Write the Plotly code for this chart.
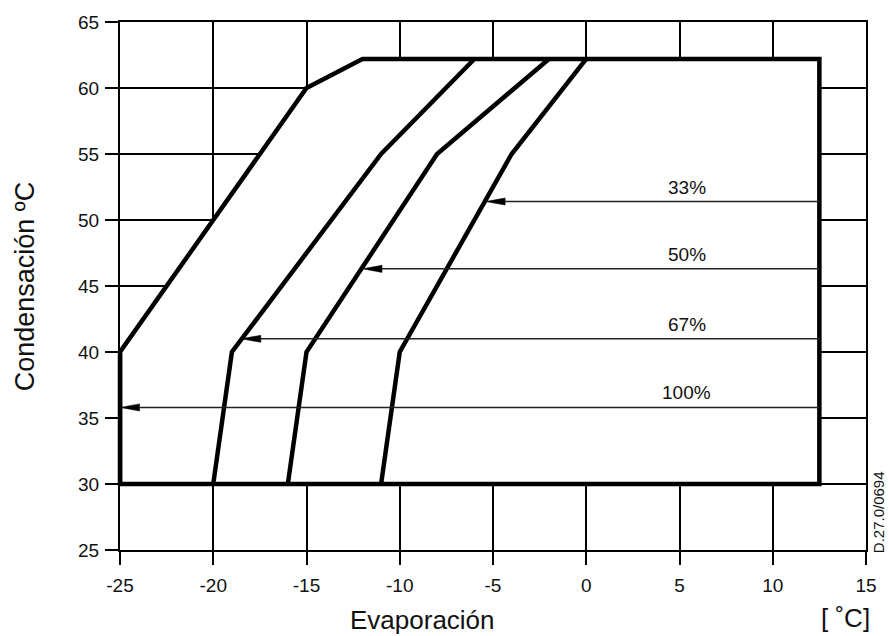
import plotly.graph_objects as go

# ---- data ----
X_TICKS = [-25, -20, -15, -10, -5, 0, 5, 10, 15]
Y_TICKS = [25, 30, 35, 40, 45, 50, 55, 60, 65]

ENV_X = [-25, -25, -15, -12, 12.5, 12.5, -25]
ENV_Y = [30, 40, 60, 62.2, 62.2, 30, 30]

CURVE_Y = [30, 40, 55, 62.2]
CURVE_67_X = [-20, -19, -11, -6]
CURVE_50_X = [-16, -15, -8, -2]
CURVE_33_X = [-11, -10, -4, 0]

ARROW_LABELS = ["33%", "50%", "67%", "100%"]
ARROW_Y = [51.4, 46.3, 41.0, 35.8]
ARROW_HEAD_X = [-5.4, -12.0, -18.5, -25.0]
ARROW_TAIL_X = 12.5
LABEL_X = 5.4

# ---- style ----
FONT = "Liberation Sans, Arial, sans-serif"
HEAD_LEN = 1.05   # x units
HEAD_HALF = 0.27  # y units
THICK = 4.5

fig = go.Figure()

# envelope (white fill hides the grid inside)
fig.add_trace(go.Scatter(x=ENV_X, y=ENV_Y, mode="lines", fill="toself",
                         fillcolor="white", line=dict(color="black", width=THICK),
                         hoverinfo="skip", showlegend=False))

for cx in (CURVE_67_X, CURVE_50_X, CURVE_33_X):
    fig.add_trace(go.Scatter(x=cx, y=CURVE_Y, mode="lines",
                             line=dict(color="black", width=THICK),
                             hoverinfo="skip", showlegend=False))

# arrows
for lab, ay, hx in zip(ARROW_LABELS, ARROW_Y, ARROW_HEAD_X):
    fig.add_trace(go.Scatter(x=[ARROW_TAIL_X, hx + HEAD_LEN], y=[ay, ay], mode="lines",
                             line=dict(color="#222", width=1.5),
                             hoverinfo="skip", showlegend=False))
    fig.add_trace(go.Scatter(x=[hx, hx + HEAD_LEN, hx + HEAD_LEN, hx],
                             y=[ay, ay + HEAD_HALF, ay - HEAD_HALF, ay],
                             mode="lines", fill="toself", fillcolor="black",
                             line=dict(color="black", width=0.5),
                             hoverinfo="skip", showlegend=False))
    fig.add_annotation(x=LABEL_X, y=ay, text=lab, showarrow=False,
                       xanchor="center", yanchor="bottom", yshift=2,
                       font=dict(family=FONT, size=19, color="#111"))

# thick left envelope edge, drawn unclipped
fig.add_annotation(x=ENV_X[0], y=ENV_Y[0], ax=ENV_X[1], ay=ENV_Y[1],
                   axref="x", ayref="y", xref="x", yref="y", text="",
                   showarrow=True, arrowhead=0, arrowwidth=THICK, arrowcolor="black")

# axis titles / extra texts
fig.add_annotation(x=-0.127, y=0.5, xref="paper", yref="paper", text="Condensación ºC",
                   textangle=-90, showarrow=False, xanchor="center", yanchor="middle",
                   font=dict(family=FONT, size=27, color="#111"))
fig.add_annotation(x=0.406, y=-0.133, xref="paper", yref="paper", text="Evaporación",
                   showarrow=False, xanchor="center", yanchor="middle",
                   font=dict(family=FONT, size=26, color="#111"))
fig.add_annotation(x=0.972, y=-0.129, xref="paper", yref="paper", text="[ ˚C]",
                   showarrow=False, xanchor="center", yanchor="middle",
                   font=dict(family=FONT, size=26, color="#111"))
fig.add_annotation(x=1.017, y=0.071, xref="paper", yref="paper", text="D.27.0/0694",
                   textangle=-90, showarrow=False, xanchor="center", yanchor="middle",
                   font=dict(family=FONT, size=15, color="#111"))

axis_common = dict(showgrid=True, gridcolor="black", gridwidth=1.8,
                   showline=True, linecolor="black", linewidth=2, mirror=True,
                   ticks="outside", ticklen=13, tickwidth=2, tickcolor="black",
                   zeroline=False, tickfont=dict(family=FONT, size=19, color="#111"))

fig.update_xaxes(range=[-25, 15], tickvals=X_TICKS, ticktext=[str(v) for v in X_TICKS],
                 ticklabelstandoff=4, **axis_common)
fig.update_yaxes(range=[25, 65], tickvals=Y_TICKS, ticktext=[str(v) for v in Y_TICKS],
                 ticklabelstandoff=2, **axis_common)

fig.update_layout(width=889, height=636, margin=dict(l=120, r=20, t=17, b=86),
                  paper_bgcolor="white", plot_bgcolor="white", showlegend=False)

fig.write_html("out.html")
